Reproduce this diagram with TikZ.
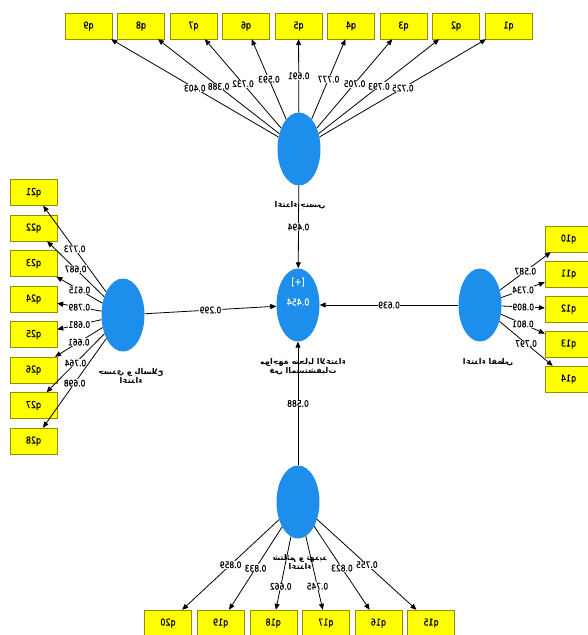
\documentclass[tikz,border=0pt]{standalone}
\usepackage{fontspec}
\setmainfont{DejaVu Sans}
\newfontfamily\numfont[FakeStretch=0.84,FakeBold=0.5]{DejaVu Sans}
\newfontfamily\arabicfont[Script=Arabic]{DejaVu Sans Bold}
\TeXXeTstate=1
\usetikzlibrary{shapes.geometric,arrows.meta}
\definecolor{plsblue}{RGB}{30,142,236}
\definecolor{boxyellow}{RGB}{255,255,0}
\definecolor{boxline}{RGB}{150,140,0}
\begin{document}
\begin{tikzpicture}[x=1pt,y=-1pt,
  lv/.style={ellipse,fill=plsblue,minimum width=43,minimum height=73,inner sep=0},
  mv/.style={rectangle,draw=boxline,fill=boxyellow,minimum width=47,minimum height=26,inner sep=0,font=\numfont\fontsize{9.5}{10}\selectfont,xscale=-1},
  lbl/.style={fill=white,inner sep=0.5pt,font=\numfont\fontsize{9}{10}\selectfont,xscale=-1},
  arr/.style={-{Triangle[length=6pt,width=5pt]},line width=0.8pt},
  ar/.style={font=\arabicfont\fontsize{8}{9.5}\selectfont,align=center,xscale=-1,inner sep=0}]
\fill[white] (0,0) rectangle (587,635);
\useasboundingbox (0,0) rectangle (587,635);

% latent variables
\node[lv] (T) at (299,149) {};
\node[lv] (C) at (298,305) {};
\node[lv] (L) at (123,315) {};
\node[lv] (R) at (480,305) {};
\node[lv] (B) at (298,502) {};
\node[font=\numfont\fontsize{9.5}{10}\selectfont,text=white,xscale=-1] (Cp) at (298,282) {[+]};
\node[font=\numfont\fontsize{9.5}{10}\selectfont,text=white,xscale=-1] (Cv) at (298,302) {0.454};

% top indicators
\foreach \n/\x in {q9/88.5,q8/141,q7/193.5,q6/246,q5/298.5,q4/351,q3/403.5,q2/456,q1/508.5}
  \node[mv] (\n) at (\x,26) {\n};
% left indicators
\foreach \n/\y in {q21/192.5,q22/228,q23/263.5,q24/299,q25/334.5,q26/370,q27/405.5,q28/441}
  \node[mv] (\n) at (33.5,\y) {\n};
% right indicators
\foreach \n/\y in {q10/239,q11/274,q12/309,q13/344,q14/379}
  \node[mv] (\n) at (568.5,\y) {\n};
% bottom indicators
\foreach \n/\x in {q20/168,q19/220.6,q18/273.2,q17/325.8,q16/378.4,q15/431}
  \node[mv] (\n) at (\x,623) {\n};

% loadings
\foreach \n/\v in {q9/0.403,q8/0.388,q7/0.732,q6/0.593,q5/0.691,q4/0.777,q3/0.705,q2/0.793,q1/0.725}
  \draw[arr] (T) -- node[lbl] {\v} (\n);
\foreach \n/\v in {q21/0.773,q22/0.687,q23/0.615,q24/0.789,q25/0.681,q26/0.661,q27/0.764,q28/0.698}
  \draw[arr] (L) -- node[lbl] {\v} (\n);
\foreach \n/\v in {q10/0.587,q11/0.734,q12/0.809,q13/0.801,q14/0.797}
  \draw[arr] (R) -- node[lbl] {\v} (\n);
\foreach \n/\v/\p in {q20/0.859/0.5,q19/0.833/0.5,q18/0.662/0.68,q17/0.745/0.68,q16/0.823/0.5,q15/0.755/0.5}
  \draw[arr] (B) -- node[lbl,pos=\p] {\v} (\n);

% structural paths
\draw[arr] (T) -- node[lbl] {0.494} (C);
\draw[arr] (L) -- node[lbl] {0.299} (C);
\draw[arr] (R) -- node[lbl] {0.639} (C);
\draw[arr] (B) -- node[lbl] {0.588} (C);

% construct names
\node[ar] (Tn) at (300,205) {\beginR اعتداء جنسي\endR};
\node[ar] (Ln) at (131,376) {\beginR جسدي و بالسلاح\endR\\\beginR اعتداء\endR};
\node[ar] (Rn) at (488,362) {\beginR اعتداء لفظي\endR};
\node[ar] (Cn) at (303,367) {\beginR مواجهة ضحايا الاعتداء\endR\\\beginR في المستشفيات\endR};
\node[ar] (Bn) at (300,562) {\beginR شتائم و تهديد\endR\\\beginR اعتداء\endR};
\end{tikzpicture}
\end{document}
